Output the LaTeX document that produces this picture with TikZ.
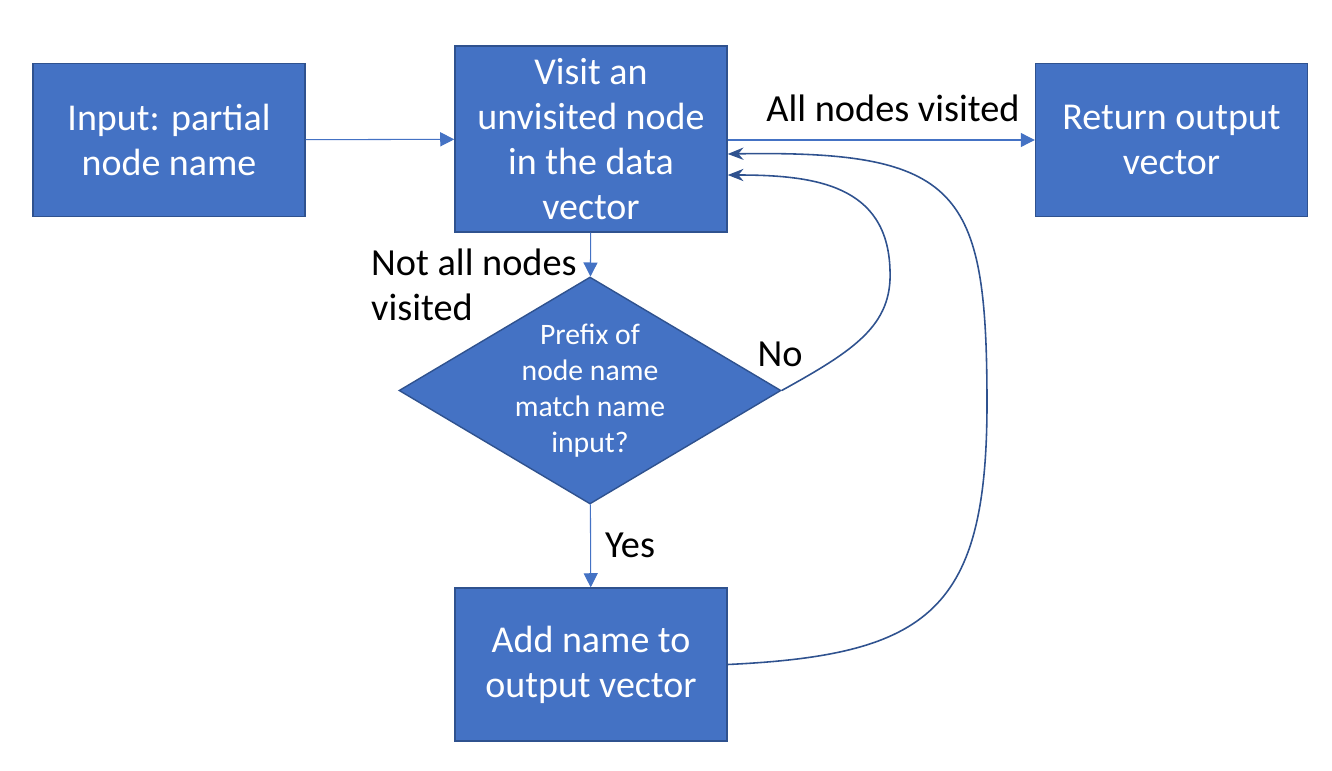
\documentclass[tikz,border=0pt]{standalone}
\usepackage{fontspec}
\setmainfont{Carlito}
\usetikzlibrary{shapes.geometric, arrows.meta, positioning}
\definecolor{BoxBlue}{HTML}{4472C4}
\definecolor{EdgeBlue}{HTML}{2F528F}

\tikzset{
  procbox/.style={draw=EdgeBlue, line width=0.8pt, fill=BoxBlue, text=white, align=center,
    minimum width=5.44cm, minimum height=3.06cm, inner sep=2pt,
    font=\fontsize{21.6}{25.6}\selectfont},
  decision/.style={diamond, draw=EdgeBlue, line width=0.8pt, fill=BoxBlue, text=white, align=center,
    minimum width=7.64cm, minimum height=4.54cm, aspect=1.68, inner sep=0pt,
    font=\fontsize{16.9}{20.5}\selectfont},
  flow/.style={-{Triangle[length=8pt, width=8pt]}, BoxBlue, line width=0.6pt},
  loopback/.style={-{Stealth[length=9pt, width=7pt]}, EdgeBlue, line width=0.9pt},
  lbl/.style={font=\fontsize{21.8}{25.6}\selectfont, align=left}
}

\begin{document}
\begin{tikzpicture}
  \useasboundingbox (0,0) rectangle (26.64,15.4);

  \node (input) [procbox] at (3.38,12.6) {Input: partial\\node name};
  \node (visit) [procbox, minimum height=3.72cm] at (11.82,12.62) {Visit an\\unvisited node\\in the data\\vector};
  \node (output) [procbox] at (23.43,12.6) {Return output\\vector};
  \node (match) [decision] at (11.8,7.59) {Prefix of\\node name\\match name\\input?};
  \node (add) [procbox] at (11.82,2.11) {Add name to\\output vector};

  \draw[flow] (input) -- (visit);
  \draw[flow] (visit.east |- input.east) -- (output.west |- input.east);
  \draw[flow] (visit) -- (match);
  \draw[flow] (match) -- (add);

  % loops back to the visit step
  \coordinate (noin) at ([yshift=-0.72cm]visit.east);
  \coordinate (addin) at ([yshift=-0.3cm]visit.east);
  \draw[loopback] (match.east) .. controls (17.1,8.4) and (17.85,8.9) .. (17.8,10.0)
    .. controls (17.75,11.7) and (16.3,11.9) .. (noin);
  \draw[loopback] (add.east) .. controls (18.6,2.3) and (19.75,3.2) .. (19.74,7.4)
    .. controls (19.73,11.6) and (19.2,12.4) .. (addin);

  \node (allvis) [lbl] at (17.86,13.24) {All nodes visited};
  \node (notall) [lbl, anchor=west] at (7.3,9.7) {Not all nodes\\visited};
  \node (nolbl) [lbl] at (15.6,8.32) {No};
  \node (yeslbl) [lbl] at (12.6,4.5) {Yes};
\end{tikzpicture}
\end{document}
